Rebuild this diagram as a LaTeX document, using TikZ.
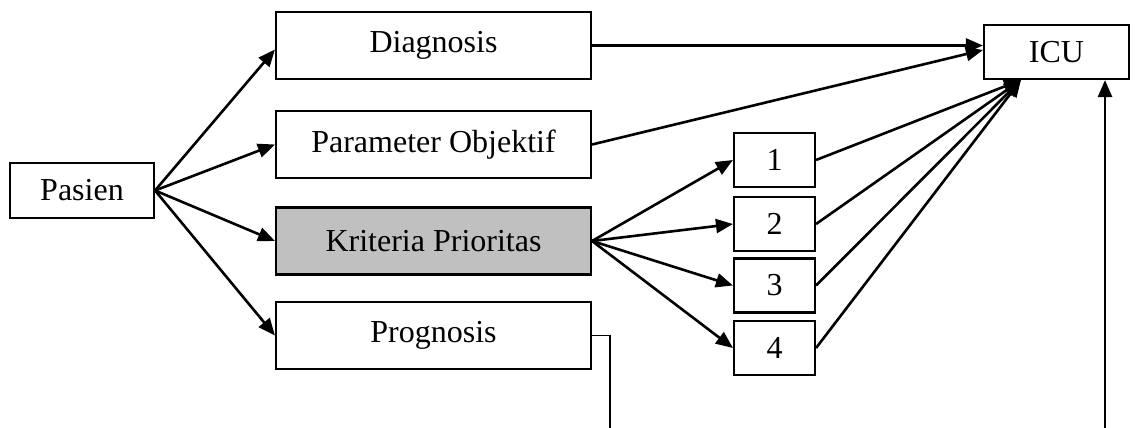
\documentclass[tikz,border=0pt]{standalone}
\usepackage{fontspec}
\setmainfont{Liberation Serif}
\usetikzlibrary{arrows.meta,calc}
\definecolor{boxgray}{HTML}{C0C0C0}
\tikzset{
  box/.style={
    draw, line width=1.05pt, inner sep=0pt,
    minimum width=157.5pt, minimum height=33.5pt,
    font=\fontsize{16}{19}\selectfont
  },
  numbox/.style={box, minimum width=40.5pt, minimum height=27pt},
  flow/.style={line width=1.3pt, -{Triangle[length=8.5pt,width=7pt]}},
  plainline/.style={line width=0.7pt}
}
\begin{document}
\begin{tikzpicture}[x=0.5pt,y=-0.5pt]
\useasboundingbox (0,0) rectangle (1136,428);
\node[box, minimum width=72pt, minimum height=27.5pt] (pasien) at (82,190.5) {Pasien};
\node[box] (diagnosis) at (433.5,45.5) {Diagnosis};
\node[box] (parameter) at (433.5,144.5) {Parameter Objektif};
\node[box, fill=boxgray] (kriteria) at (433.5,241) {Kriteria Prioritas};
\node[box] (prognosis) at (433.5,335.5) {Prognosis};
\foreach \n/\y in {1/160,2/224,3/285.5,4/348}
  \node[numbox] (k\n) at (774.5,\y) {\n};
\node[box, minimum width=72.5pt, minimum height=27pt] (icu) at (1056.5,52) {ICU};
\coordinate (icuin) at ($(icu.south west)+(19pt,0)$);
\coordinate (progend) at (610,428);
\coordinate (icuend) at (1105,428);
% pasien to the four aspects
\draw[flow] (pasien.east) -- ([yshift=-2pt]diagnosis.west);
\foreach \t in {parameter,kriteria,prognosis}
  \draw[flow] (pasien.east) -- (\t.west);
\draw[flow] (diagnosis.east) -- (diagnosis.east -| icu.west);
\draw[flow] (parameter.east) -- ($(icu.west)+(0,1pt)$);
\foreach \n in {1,...,4}{
  \draw[flow] (kriteria.east) -- (k\n.west);
  \draw[flow] (k\n.east) -- (icuin);
}
\draw[plainline] (prognosis.east) -| (progend);
\draw[flow] (icuend) -- (icuend |- icu.south);
\end{tikzpicture}
\end{document}
